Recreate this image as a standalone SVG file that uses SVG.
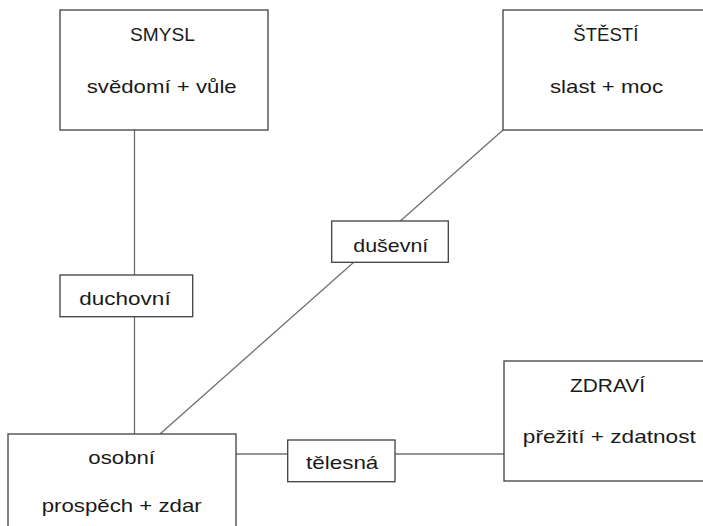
<svg xmlns="http://www.w3.org/2000/svg" width="703" height="526" viewBox="0 0 703 526">
<style>
.box{fill:#fff;stroke:#3f3f3f;stroke-width:1.3}
.ln{stroke:#707070;stroke-width:1.3;fill:none}
text{font-family:"Liberation Sans",Arial,sans-serif;font-size:19px;fill:#1a1a1a;text-anchor:middle}
</style>
<rect width="703" height="526" fill="#fff"/>
<g id="connectors">
<line class="ln" x1="134.5" y1="130" x2="134.5" y2="434"/>
<line class="ln" x1="160" y1="434" x2="503" y2="130"/>
<line class="ln" x1="236" y1="454" x2="504" y2="454"/>
</g>
<g id="smysl">
<rect class="box" x="60" y="10" width="208" height="120"/>
<text x="162.5" y="40.5" textLength="65" lengthAdjust="spacingAndGlyphs">SMYSL</text>
<text x="161.7" y="93" textLength="150" lengthAdjust="spacingAndGlyphs">svědomí + vůle</text>
</g>
<g id="stesti">
<rect class="box" x="503" y="10" width="210" height="120"/>
<text x="605.8" y="40.5" textLength="65" lengthAdjust="spacingAndGlyphs">ŠTĚSTÍ</text>
<text x="606.5" y="93" textLength="113" lengthAdjust="spacingAndGlyphs">slast + moc</text>
</g>
<g id="osobni">
<rect class="box" x="8" y="434" width="228" height="100"/>
<text x="121.7" y="464" textLength="66.7" lengthAdjust="spacingAndGlyphs">osobní</text>
<text x="121.7" y="512" textLength="160" lengthAdjust="spacingAndGlyphs">prospěch + zdar</text>
</g>
<g id="zdravi">
<rect class="box" x="504" y="361" width="210" height="120"/>
<text x="607.5" y="392" textLength="75" lengthAdjust="spacingAndGlyphs">ZDRAVÍ</text>
<text x="609.3" y="443" textLength="173" lengthAdjust="spacingAndGlyphs">přežití + zdatnost</text>
</g>
<g id="duchovni">
<rect class="box" x="60" y="275" width="132.7" height="41.7"/>
<text x="125" y="305" textLength="91.3" lengthAdjust="spacingAndGlyphs">duchovní</text>
</g>
<g id="dusevni">
<rect class="box" x="331.7" y="221" width="116.6" height="41.3"/>
<text x="390.8" y="251.5" textLength="75" lengthAdjust="spacingAndGlyphs">duševní</text>
</g>
<g id="telesna">
<rect class="box" x="287.7" y="440" width="107.3" height="41.7"/>
<text x="342.2" y="469" textLength="72.3" lengthAdjust="spacingAndGlyphs">tělesná</text>
</g>
</svg>
